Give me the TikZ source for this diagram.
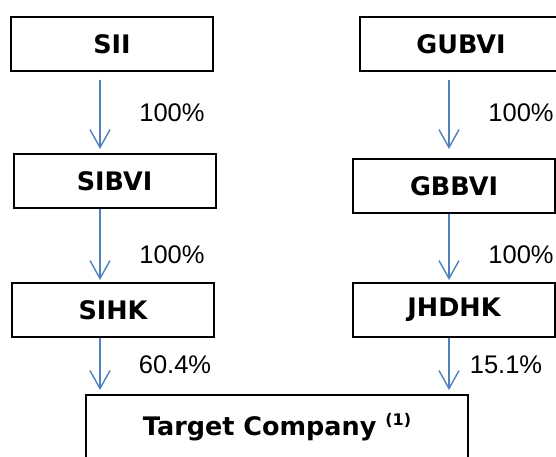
\documentclass[tikz,border=0pt]{standalone}
\usepackage{fontspec}
\setmainfont{DejaVu Sans}
\newfontfamily\pctfont{Liberation Sans}
\usetikzlibrary{arrows.meta}
\definecolor{linkblue}{RGB}{79,129,189}
\tikzset{
  entity/.style={draw=black, line width=2pt, fill=white, minimum width=202pt,
    minimum height=54pt, inner sep=0pt,
    font=\fontsize{25.5}{29}\selectfont\bfseries},
  own/.style={draw=linkblue, line width=1.4pt,
    -{Straight Barb[length=18pt,width=20pt,line width=1.4pt]}},
  pct/.style={inner sep=0pt, font=\pctfont\fontsize{25.5}{28}\selectfont}
}
\begin{document}
\begin{tikzpicture}[x=1pt,y=-1pt]
\useasboundingbox (0,0) rectangle (556,457);
\clip (0,0) rectangle (556,457);

% left chain
\node[entity] (sii)   at (112,44)    {SII};
\node[entity] (sibvi) at (114.5,181) {SIBVI};
\node[entity] (sihk)  at (113,310)   {SIHK};

% right chain
\node[entity] (gubvi) at (461,44)  {GUBVI};
\node[entity] (gbbvi) at (454,186) {GBBVI};
\node[entity] (jhdhk) at (454,310) {JHDHK};

% held company
\node[entity, minimum width=382pt, minimum height=64pt] (target) at (277,427)
  {Target Company \raisebox{10pt}{\fontsize{16}{16}\selectfont(1)}};

% arrow columns
\coordinate (lx) at (100,0);
\coordinate (rx) at (449,0);

\draw[own] ([yshift=-8pt]sii.south -| lx)   -- ([yshift=4pt]sibvi.north -| lx);
\draw[own] (sibvi.south -| lx)              -- ([yshift=2pt]sihk.north -| lx);
\draw[own] (sihk.south -| lx)               -- ([yshift=4pt]target.north -| lx);

\draw[own] ([yshift=-8pt]gubvi.south -| rx) -- ([yshift=9pt]gbbvi.north -| rx);
\draw[own] (gbbvi.south -| rx)              -- ([yshift=2pt]jhdhk.north -| rx);
\draw[own] (jhdhk.south -| rx)              -- ([yshift=4pt]target.north -| rx);

% ownership shares
\node[pct] (p1) at (172,113) {100\%};
\node[pct] (p2) at (172,255) {100\%};
\node[pct] (p3) at (175,365) {60.4\%};
\node[pct] (p4) at (521,113) {100\%};
\node[pct] (p5) at (521,255) {100\%};
\node[pct] (p6) at (506,365) {15.1\%};
\end{tikzpicture}
\end{document}
